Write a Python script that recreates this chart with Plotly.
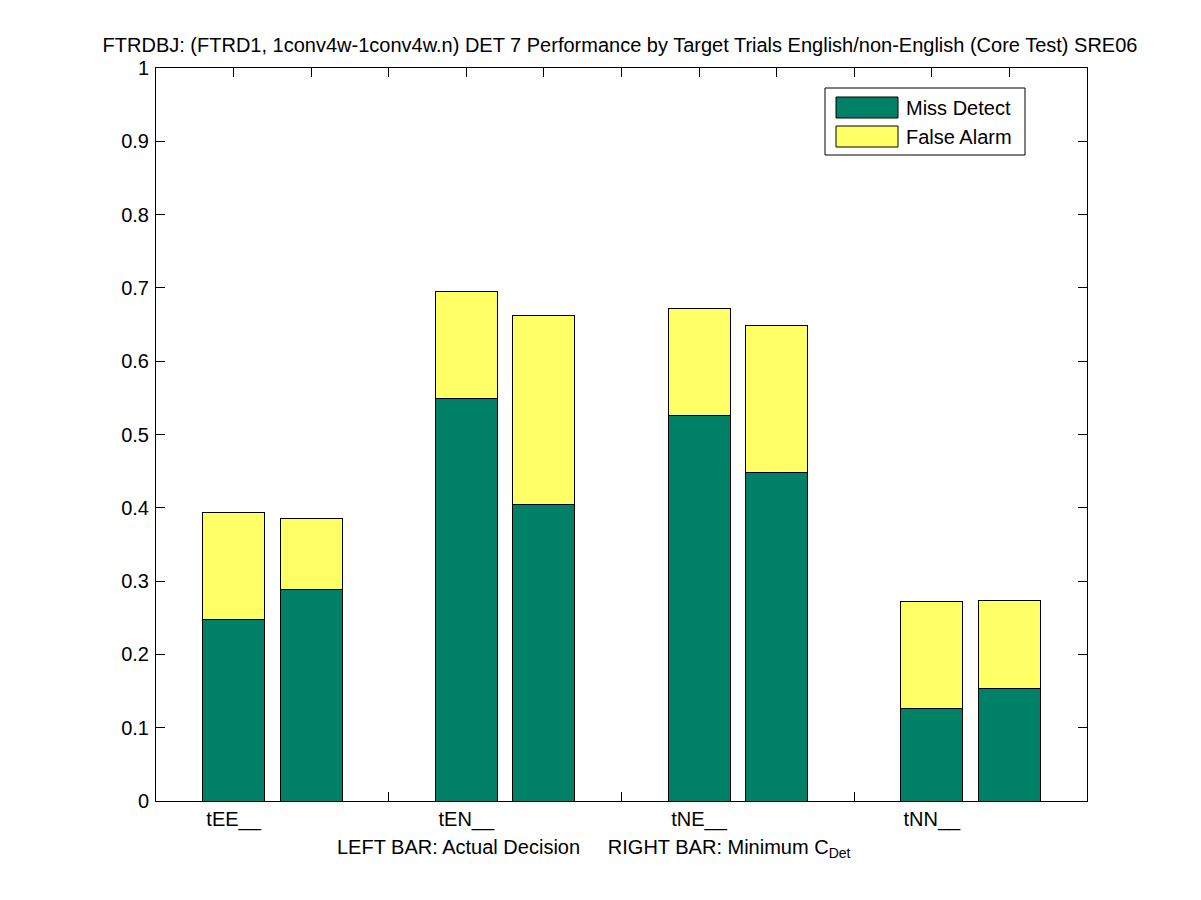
import plotly.graph_objects as go

categories = ["tEE__", "tEN__", "tNE__", "tNN__"]
miss_actual = [0.247, 0.549, 0.526, 0.126]
total_actual = [0.394, 0.695, 0.672, 0.272]
miss_min = [0.289, 0.405, 0.448, 0.154]
total_min = [0.386, 0.663, 0.649, 0.274]
series_names = ["Miss Detect", "False Alarm"]
y_ticks = [0, 0.1, 0.2, 0.3, 0.4, 0.5, 0.6, 0.7, 0.8, 0.9, 1]
y_ticktext = ["0", "0.1", "0.2", "0.3", "0.4", "0.5", "0.6", "0.7", "0.8", "0.9", "1"]

GREEN = "rgb(0,128,102)"
YELLOW = "rgb(255,255,102)"
FONT = "Liberation Sans, Arial, sans-serif"
FS = 20

# positions: left bar at 3k+1, right bar at 3k+2
x_pos, miss_vals, fa_vals = [], [], []
for i in range(len(categories)):
    x_pos += [3 * i + 1, 3 * i + 2]
    miss_vals += [miss_actual[i], miss_min[i]]
    fa_vals += [total_actual[i] - miss_actual[i], total_min[i] - miss_min[i]]

fig = go.Figure()
fig.add_trace(go.Bar(x=x_pos, y=miss_vals, width=0.8, name=series_names[0],
                     marker=dict(color=GREEN, line=dict(color="black", width=1)),
                     showlegend=False))
fig.add_trace(go.Bar(x=x_pos, y=fa_vals, width=0.8, name=series_names[1],
                     marker=dict(color=YELLOW, line=dict(color="black", width=1)),
                     showlegend=False))

label_vals = [3 * i + 1 for i in range(len(categories))]
minor_vals = [v for v in range(1, 12) if v not in label_vals]

# page offset of 8px (browser body margin)
OFF = 8
L, T, R, B = 156 - OFF, 68 - OFF, 1087 - OFF, 801 - OFF

fig.update_layout(
    width=1201, height=900,
    margin=dict(l=L, r=1201 - R, t=T, b=900 - B),
    paper_bgcolor="white", plot_bgcolor="white",
    barmode="stack",
    font=dict(family=FONT, size=FS, color="black"),
    title=dict(text="FTRDBJ: (FTRD1, 1conv4w-1conv4w.n) DET 7 Performance by Target Trials English/non-English (Core Test) SRE06",
               x=(620 - OFF) / 1201, xanchor="center", y=1 - (45 - OFF) / 900, yanchor="middle",
               font=dict(family=FONT, size=FS)),
    xaxis=dict(range=[0, 12], tickvals=label_vals, ticktext=categories,
               ticks="inside", ticklen=9, tickcolor="black", tickwidth=1,
               minor=dict(tickvals=minor_vals, ticks="inside", ticklen=9,
                          tickcolor="black", tickwidth=1, showgrid=False),
               showline=True, linecolor="black", linewidth=1, mirror="ticks",
               showgrid=False, zeroline=False, layer="below traces",
               tickfont=dict(family=FONT, size=FS), ticklabelstandoff=0),
    yaxis=dict(range=[0, 1], tickvals=y_ticks, ticktext=y_ticktext,
               ticks="inside", ticklen=9, tickcolor="black", tickwidth=1,
               showline=True, linecolor="black", linewidth=1, mirror="ticks",
               showgrid=False, zeroline=False, layer="below traces",
               tickfont=dict(family=FONT, size=FS), ticklabelstandoff=2),
)

def px_x(p):
    return (p - 156) / 931

def px_y(p):
    return (801 - p) / 733

# x-axis label
fig.add_annotation(
    text="LEFT BAR: Actual Decision\u00a0\u00a0\u00a0\u00a0\u00a0RIGHT BAR: Minimum C<sub>Det</sub>",
    xref="paper", yref="paper", x=px_x(594), y=px_y(848),
    xanchor="center", yanchor="middle", showarrow=False,
    font=dict(family=FONT, size=FS))

# legend box (drawn in paper coordinates)
fig.add_shape(type="rect", xref="paper", yref="paper",
              x0=px_x(825), x1=px_x(1025), y0=px_y(155), y1=px_y(88),
              line=dict(color="black", width=1), fillcolor="white")
legend_colors = [GREEN, YELLOW]
legend_ys = [108, 137]
for name, col, yc in zip(series_names, legend_colors, legend_ys):
    fig.add_shape(type="rect", xref="paper", yref="paper",
                  x0=px_x(836), x1=px_x(898), y0=px_y(yc + 10), y1=px_y(yc - 11),
                  line=dict(color="black", width=1), fillcolor=col)
    fig.add_annotation(text=name, xref="paper", yref="paper",
                       x=px_x(904), y=px_y(yc), xanchor="left", yanchor="middle",
                       showarrow=False, font=dict(family=FONT, size=FS))

fig.write_html("out.html")
